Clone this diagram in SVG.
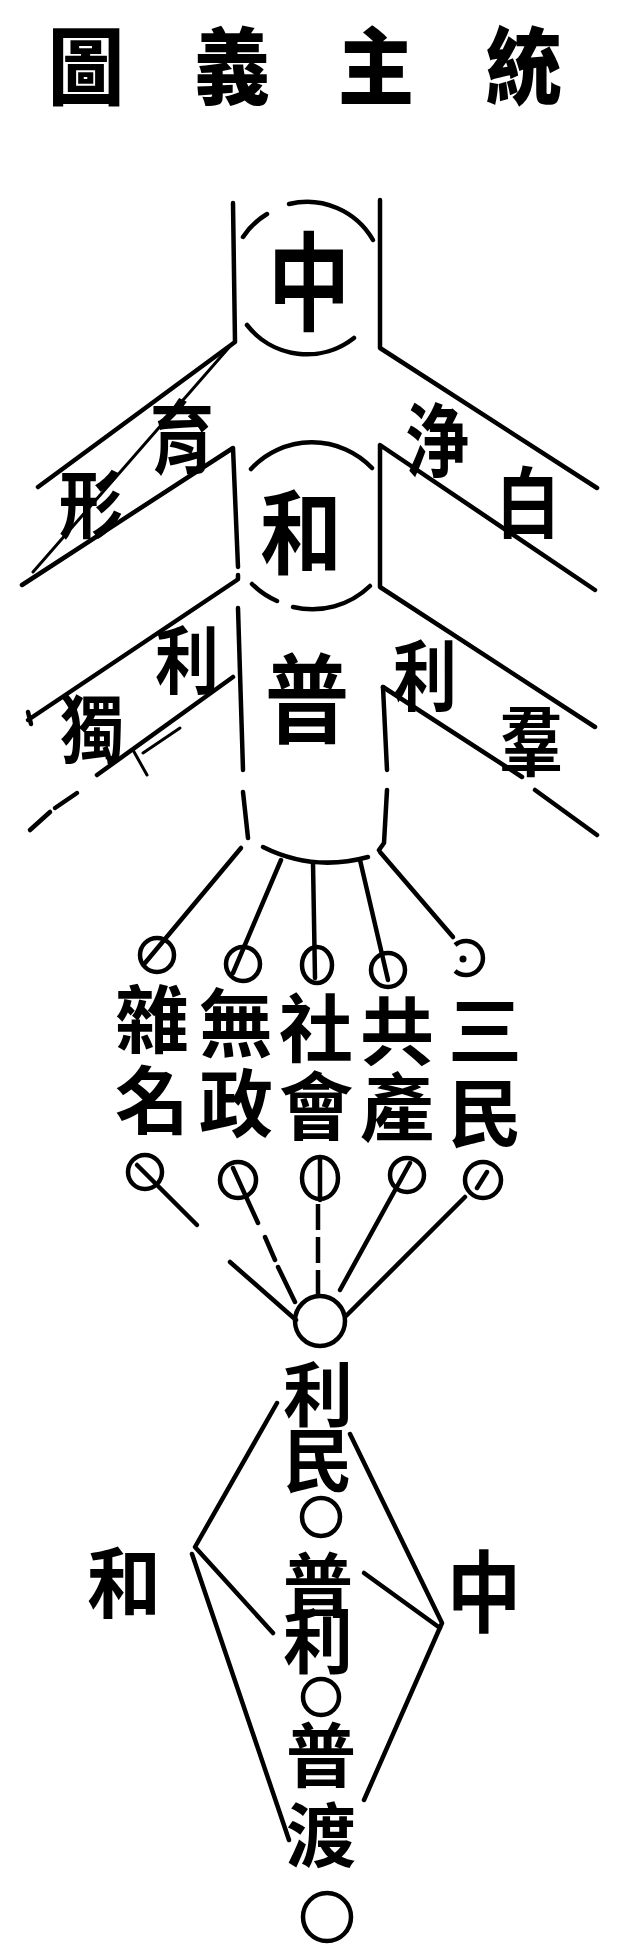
<svg xmlns="http://www.w3.org/2000/svg" width="630" height="1952" viewBox="0 0 630 1952">
<style>
.t{font-family:"Noto Sans CJK TC","Noto Sans CJK SC","Noto Sans CJK JP",sans-serif;fill:#000;text-anchor:middle;dominant-baseline:central}
.title{font-size:76px;font-weight:900;dominant-baseline:auto}
.big{font-size:82px;font-weight:700}
.band{font-size:64px;font-weight:700}
.col{font-size:74px;font-weight:700}
.v{writing-mode:vertical-rl}
.ln{stroke:#000;stroke-width:4.5;fill:none;stroke-linecap:round;stroke-linejoin:round}
.th{stroke-width:3}
.dsh{stroke-dasharray:26 7;stroke-linecap:butt}
.ring{stroke:#000;stroke-width:4.5;fill:none}
</style>
<rect width="630" height="1952" fill="#fff"/>

<g id="title">
<text class="t title" transform="translate(86,98) scale(1,1.1)">圖</text>
<text class="t title" transform="translate(232,98) scale(1,1.1)">義</text>
<text class="t title" transform="translate(376,98) scale(1,1.1)">主</text>
<text class="t title" transform="translate(524,98) scale(1,1.1)">統</text>
</g>

<g id="connectors">
<!-- upper bands -->
<path class="ln" d="M233,203 L235,342 L38,487"/>
<path class="ln th" d="M232,344 L33,572"/>
<path class="ln" d="M22,585 L233,448 L238,567"/>
<path class="ln" d="M238,575 L238,579"/>
<path class="ln" d="M380,200 L380,348 L597,488"/>
<path class="ln" d="M595,590 L380,445 L380,587 L595,727"/>
<!-- lower bands -->
<path class="ln" d="M237,580 L28,720 M28,712 L31,724"/>
<path class="ln" d="M238,608 L243,770 M243,792 L248,838"/>
<path class="ln" d="M233,677 L97,775"/>
<path class="ln th" d="M143,753 L180,728 M133,750 L147,775"/>
<path class="ln" d="M77,793 L55,808 M50,812 L30,830"/>
<path class="ln" d="M383,687 L522,777 M535,790 L597,835"/>
<path class="ln" d="M383,687 L387,770 M387,790 L384,843 L379,850"/>
<!-- circles of the trunk -->
<path class="ln" d="M243,237 A76,76 0 0 1 267,214"/>
<path class="ln" d="M289,204 A76,76 0 0 1 373,240"/>
<path class="ln" d="M354,338 A76,76 0 0 1 247,325"/>
<path class="ln" d="M251,469 A83,83 0 0 1 372,468"/>
<path class="ln" d="M252,584 A83,83 0 0 0 277,601"/>
<path class="ln" d="M370,586 A83,83 0 0 1 293,607"/>
<path class="ln" d="M263,847 Q313,872 368,857"/>
<!-- radiating lines -->
<path class="ln" d="M241,848 L145,963"/>
<path class="ln" d="M281,860 L233,973"/>
<path class="ln" d="M313,863 L315,978"/>
<path class="ln" d="M360,860 L388,980"/>
<path class="ln" d="M380,852 L453,937"/>
<!-- lines to lower circle -->
<path class="ln" d="M137,1165 L197,1225"/>
<path class="ln" d="M233,1168 L258,1223 M265,1237 L275,1260 M278,1267 L295,1302"/>
<path class="ln" d="M320,1158 L320,1200"/>
<path class="ln dsh" d="M318,1204 L318,1296"/>
<path class="ln" d="M410,1163 L340,1290"/>
<path class="ln" d="M487,1172 L477,1188 M465,1197 L346,1316"/>
<path class="ln" d="M230,1262 L296,1320"/>
<!-- kite -->
<path class="ln" d="M277,1403 L195,1547 L273,1633"/>
<path class="ln" d="M192,1554 L289,1840"/>
<path class="ln" d="M350,1434 L442,1623 L364,1800"/>
<path class="ln" d="M364,1573 L440,1628"/>
</g>

<g id="node-zhong">
<text class="t big" transform="translate(309,275) scale(1,1.3)">中</text>
</g>
<g id="node-he">
<text class="t big" font-size="80" transform="translate(301,527) scale(1,1.12)">和</text>
</g>
<g id="node-pu">
<text class="t big" style="font-size:84px" transform="translate(307,693) scale(1,1.15)">普</text>
</g>

<g id="band-left-1">
<text class="t band" transform="translate(182,432) scale(1,1.25)">育</text>
<text class="t band" transform="translate(91,500) scale(1,1.15)">形</text>
</g>
<g id="band-right-1">
<text class="t band" transform="translate(437,435) scale(1,1.25)">浄</text>
<text class="t band" transform="translate(528,498) scale(1,1.2)">白</text>
</g>
<g id="band-left-2">
<text class="t band" transform="translate(187,656) scale(1,1.15)">利</text>
<text class="t band" transform="translate(92,725) scale(1,1.15)">獨</text>
</g>
<g id="band-right-2">
<text class="t band" transform="translate(425,671) scale(1,1.2)">利</text>
<text class="t band" transform="translate(531,736) scale(1,1.2)">羣</text>
</g>

<g id="node-c1"><circle class="ring" cx="157" cy="955" r="17"/></g>
<g id="node-c2"><circle class="ring" cx="243" cy="964" r="17"/></g>
<g id="node-c3"><ellipse class="ring" cx="317" cy="965" rx="15" ry="18"/></g>
<g id="node-c4"><circle class="ring" cx="388" cy="970" r="17"/></g>
<g id="node-c5"><path class="ring" stroke-width="6.5" d="M455,945 A17,17 0 1 1 455,971"/><circle cx="463" cy="959" r="3.5"/></g>

<g id="node-zaming"><text class="t col v" x="152" y="1063" letter-spacing="7">雜名</text></g>
<g id="node-wuzheng"><text class="t col v" x="236" y="1066" letter-spacing="6">無政</text></g>
<g id="node-shehui"><text class="t col v" x="316" y="1069" letter-spacing="4">社會</text></g>
<g id="node-gongchan"><text class="t col v" x="397" y="1070" letter-spacing="2">共產</text></g>
<g id="node-sanmin"><text class="t col v" x="485" y="1076" letter-spacing="9">三民</text></g>

<g id="node-d1"><circle class="ring" cx="145" cy="1172" r="17"/></g>
<g id="node-d2"><circle class="ring" cx="238" cy="1180" r="18"/></g>
<g id="node-d3"><ellipse class="ring" cx="320" cy="1178" rx="18" ry="21"/></g>
<g id="node-d4"><circle class="ring" cx="407" cy="1175" r="17"/></g>
<g id="node-d5"><circle class="ring" cx="483" cy="1180" r="18"/></g>
<g id="node-hub"><circle class="ring" cx="320" cy="1321" r="25"/></g>

<g id="node-column">
<text class="t col v" style="font-size:70px" x="318" y="1425" letter-spacing="-4">利民</text>
<circle class="ring" cx="321" cy="1517" r="19"/>
<text class="t col v" style="font-size:70px" x="318" y="1606" letter-spacing="-14">普利</text>
<circle class="ring" cx="321" cy="1697" r="18"/>
<text class="t col v" style="font-size:70px" x="321" y="1800" letter-spacing="10">普渡</text>
<circle class="ring" stroke-width="5" cx="327" cy="1917" r="24"/>
</g>

<g id="label-he"><text class="t col" transform="translate(124,1578) scale(1,1.05)">和</text></g>
<g id="label-zhong"><text class="t col" transform="translate(484,1586) scale(1,1.2)">中</text></g>
</svg>
